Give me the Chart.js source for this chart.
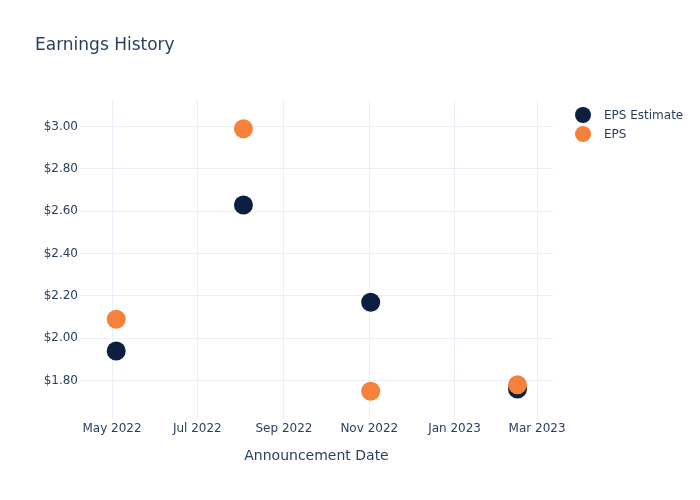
<!DOCTYPE html>
<html>
<head>
<meta charset="utf-8">
<title>Earnings History</title>
<script src="https://cdn.jsdelivr.net/npm/chart.js@4.4.1/dist/chart.umd.min.js"></script>
<style>
    body { margin: 0; background: #fff; }
</style>
</head>
<body>
<canvas id="myChart" width="700" height="500"></canvas>
<script>
// datos
const fechasAnuncio = ['2022-05-04', '2022-08-03', '2022-11-02', '2023-02-15'];
const epsEstimado = [1.94, 2.63, 2.17, 1.76];
const epsReal = [2.09, 2.99, 1.75, 1.78];

const fechasTicks = ['2022-05-01', '2022-07-01', '2022-09-01', '2022-11-01', '2023-01-01', '2023-03-01'];
const etiquetasX = ['May 2022', 'Jul 2022', 'Sep 2022', 'Nov 2022', 'Jan 2023', 'Mar 2023'];
const valoresY = [1.8, 2.0, 2.2, 2.4, 2.6, 2.8, 3.0];

const colorTexto = '#2a3f5f';
const colorGrid = '#ebf0f8';

// fecha -> dias (no hay adaptador de fechas)
function aDias(fecha) {
    const [a, m, d] = fecha.split('-').map(Number);
    return Date.UTC(a, m - 1, d) / 86400000;
}

const diasTicks = fechasTicks.map(aDias);

function puntos(valores) {
    return fechasAnuncio.map((f, i) => ({ x: aDias(f), y: valores[i] }));
}

Chart.defaults.font.family = '"DejaVu Sans", sans-serif';
Chart.defaults.color = colorTexto;

// leyenda a mano (circulo grande + texto)
const leyendaPlugin = {
    id: 'leyenda',
    afterDraw(chart) {
        const ctx = chart.ctx;
        const area = chart.chartArea;
        ctx.save();
        ctx.font = '12px "DejaVu Sans"';
        ctx.textBaseline = 'middle';
        ctx.textAlign = 'left';
        chart.data.datasets.forEach((ds, i) => {
            const y = area.top + 15 + i * 19;
            const x = area.right + 30;
            ctx.beginPath();
            ctx.arc(x, y, 8, 0, Math.PI * 2);
            ctx.fillStyle = ds.backgroundColor;
            ctx.fill();
            ctx.fillStyle = colorTexto;
            ctx.fillText(ds.label, x + 21, y + 1);
        });
        ctx.restore();
    }
};

const ctx = document.getElementById('myChart').getContext('2d');

const myChart = new Chart(ctx, {
    type: 'scatter',
    data: {
        datasets: [
            {
                label: 'EPS Estimate',
                data: puntos(epsEstimado),
                backgroundColor: '#0c1f40',
                borderWidth: 0,
                pointRadius: 9.5,
                pointHoverRadius: 9.5,
                order: 1,
            },
            {
                label: 'EPS',
                data: puntos(epsReal),
                backgroundColor: '#f6813a',
                borderWidth: 0,
                pointRadius: 9.5,
                pointHoverRadius: 9.5,
                order: 0,
            }
        ]
    },
    options: {
        responsive: false,
        animation: false,
        layout: {
            padding: { left: 35, right: 147, top: 0, bottom: 0 }
        },
        scales: {
            x: {
                type: 'linear',
                min: aDias('2022-05-01') - 22.9,
                max: aDias('2023-03-01') + 11.4,
                afterBuildTicks: (scale) => {
                    scale.ticks = diasTicks.map(v => ({ value: v }));
                },
                afterFit: (scale) => { scale.height = 80; },
                ticks: {
                    font: { size: 12 },
                    padding: 2,
                    maxRotation: 0,
                    autoSkip: false,
                    callback: (value, index) => etiquetasX[index],
                },
                grid: {
                    color: colorGrid,
                    drawTicks: false,
                },
                border: { display: false },
                title: {
                    display: true,
                    text: 'Announcement Date',
                    font: { size: 14 },
                    padding: { top: 0, bottom: 34.8 },
                },
            },
            y: {
                min: 1.614,
                max: 3.126,
                afterBuildTicks: (scale) => {
                    scale.ticks = valoresY.map(v => ({ value: v }));
                },
                afterFit: (scale) => { scale.width = 45; },
                ticks: {
                    font: { size: 12 },
                    padding: 2,
                    callback: (value) => '$' + value.toFixed(2),
                },
                grid: {
                    color: colorGrid,
                    drawTicks: false,
                },
                border: { display: false },
            }
        },
        plugins: {
            legend: { display: false },
            tooltip: { enabled: true },
            title: {
                display: true,
                text: 'Earnings History',
                align: 'start',
                color: colorTexto,
                font: { size: 17, weight: 'normal' },
                padding: { top: 35, bottom: 44.6 },
            },
        }
    },
    plugins: [leyendaPlugin]
});
</script>
</body>
</html>
